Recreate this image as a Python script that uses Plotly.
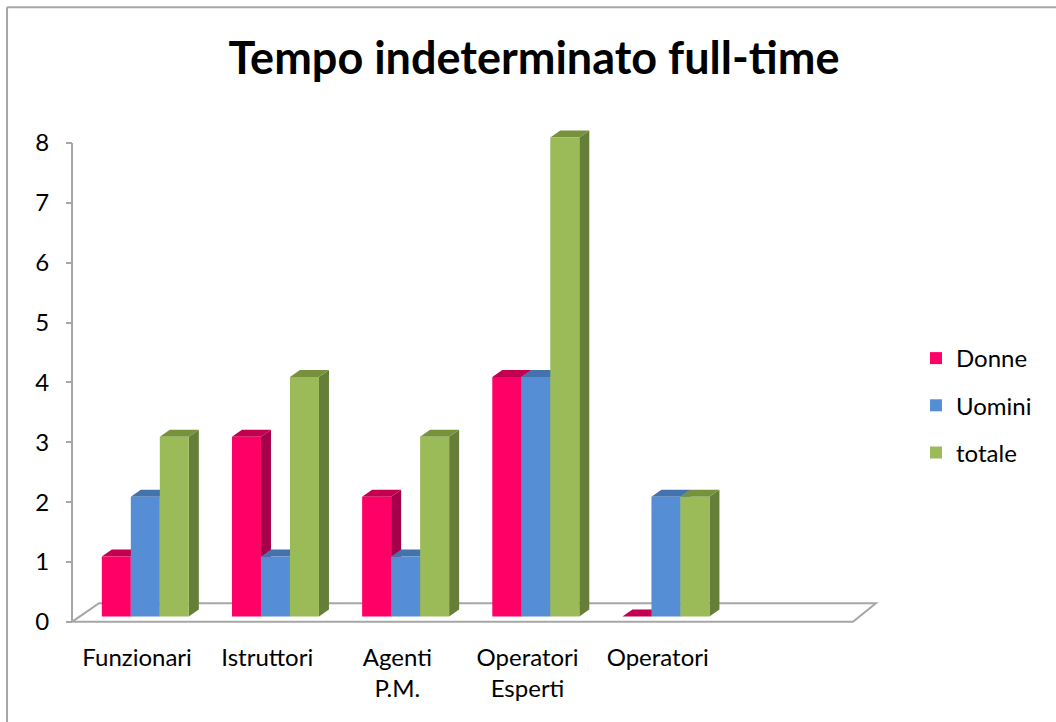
import plotly.graph_objects as go

# ---- data ----
categories = ["Funzionari", "Istruttori", "Agenti<br>P.M.", "Operatori<br>Esperti", "Operatori"]
series_names = ["Donne", "Uomini", "totale"]
donne = [1, 3, 2, 4, 0]
uomini = [2, 1, 1, 4, 2]
totale = [3, 4, 3, 8, 2]
y_ticks = [0, 1, 2, 3, 4, 5, 6, 7, 8]

values = [donne, uomini, totale]
front_colors = ["#FF0066", "#558ED5", "#9BBB59"]
side_colors = ["#A5004A", "#3B679F", "#667F38"]
top_colors = ["#C2004F", "#4472AC", "#76933C"]

# ---- geometry (in axis units) ----
W, H = 1056, 722
ux, uy = 130.17, 59.9          # px per category / per unit
x0px, y0px = 72, 622           # pixel of (0,0)
n_slots = 6
xr = [-0.1, 6.3]
yr = [-0.12, 8.3]
l = x0px + xr[0] * ux
r = W - (x0px + xr[1] * ux)
b = H - (y0px - yr[0] * uy)
t = y0px - yr[1] * uy

bar_w = 0.2228
first_left = 0.229
base = 0.09
ddx, ddy = 10 / ux, 7 / uy

fig = go.Figure()
shapes = []

# floor
fl_dx_l, fl_dx_r, fl_dy = 27 / ux, 23 / ux, 0.31
shapes.append(dict(type="path", xref="x", yref="y", layer="below",
                   path=f"M 0 0 L {n_slots} 0 L {n_slots + fl_dx_r} {fl_dy} L {fl_dx_l} {fl_dy} Z",
                   line=dict(color="#A6A6A6", width=2), fillcolor="rgba(0,0,0,0)"))
# y-axis line
shapes.append(dict(type="line", xref="x", yref="y", layer="below",
                   x0=0, x1=0, y0=0, y1=max(y_ticks), line=dict(color="#A6A6A6", width=2)))

for i in range(len(categories)):
    for k in range(3):
        v = values[k][i]
        xl = i + first_left + k * bar_w
        xrt = xl + bar_w
        yt = base + v
        # side face
        if v > 0:
            shapes.append(dict(type="path", xref="x", yref="y", layer="below",
                               path=f"M {xrt} {base} L {xrt + ddx} {base + ddy} L {xrt + ddx} {yt + ddy} L {xrt} {yt} Z",
                               line=dict(width=0), fillcolor=side_colors[k]))
        # top face
        shapes.append(dict(type="path", xref="x", yref="y", layer="below",
                           path=f"M {xl} {yt} L {xl + ddx} {yt + ddy} L {xrt + ddx} {yt + ddy} L {xrt} {yt} Z",
                           line=dict(width=0), fillcolor=top_colors[k]))

for k in range(3):
    xs = [i + first_left + k * bar_w + bar_w / 2 for i in range(len(categories))]
    fig.add_trace(go.Bar(
        x=xs, y=values[k], base=base, width=bar_w, name=series_names[k],
        marker=dict(color=front_colors[k], line=dict(width=0)),
        legendgroup=series_names[k], hoverinfo="name+y",
    ))

# chart frame (top and left edges)
fx = (7 - l) / (W - l - r)
fy = (H - b - 7) / (H - t - b)
shapes.append(dict(type="line", xref="paper", yref="paper", x0=fx, x1=fx, y0=-1, y1=fy,
                   line=dict(color="#A6A6A6", width=2)))
shapes.append(dict(type="line", xref="paper", yref="paper", x0=fx, x1=3, y0=fy, y1=fy,
                   line=dict(color="#A6A6A6", width=2)))

font_family = "Lato, 'Open Sans', sans-serif"
fig.update_layout(
    width=W, height=H,
    margin=dict(l=l, r=r, t=t, b=b, autoexpand=False),
    paper_bgcolor="white", plot_bgcolor="white",
    barmode="overlay",
    shapes=shapes,
    font=dict(family=font_family, size=24, color="black"),
    title=dict(text="<b>Tempo indeterminato full-time</b>", x=534 / W, xanchor="center",
               xref="container", y=1 - 58 / H, yanchor="middle", yref="container",
               font=dict(family=font_family, size=45, color="black")),
    xaxis=dict(range=xr, showgrid=False, zeroline=False, showline=False,
               tickvals=[i + 0.5 for i in range(len(categories))], ticktext=categories,
               ticks="", ticklabelstandoff=12, fixedrange=True),
    yaxis=dict(range=yr, showgrid=False, zeroline=False, showline=False,
               anchor="free", position=(0 - xr[0]) / (xr[1] - xr[0]),
               tickvals=y_ticks, ticks="outside", ticklen=6, tickcolor="#A6A6A6", tickwidth=2,
               ticklabelstandoff=12, fixedrange=True),
    legend=dict(xref="container", yref="container", x=916 / W, y=1 - 336 / H,
                xanchor="left", yanchor="top", traceorder="grouped", tracegroupgap=13,
                font=dict(size=24), bgcolor="rgba(0,0,0,0)"),
    showlegend=True,
)

fig.write_html("out.html", config={"displayModeBar": False},
               post_script="document.body.style.margin='0';")
